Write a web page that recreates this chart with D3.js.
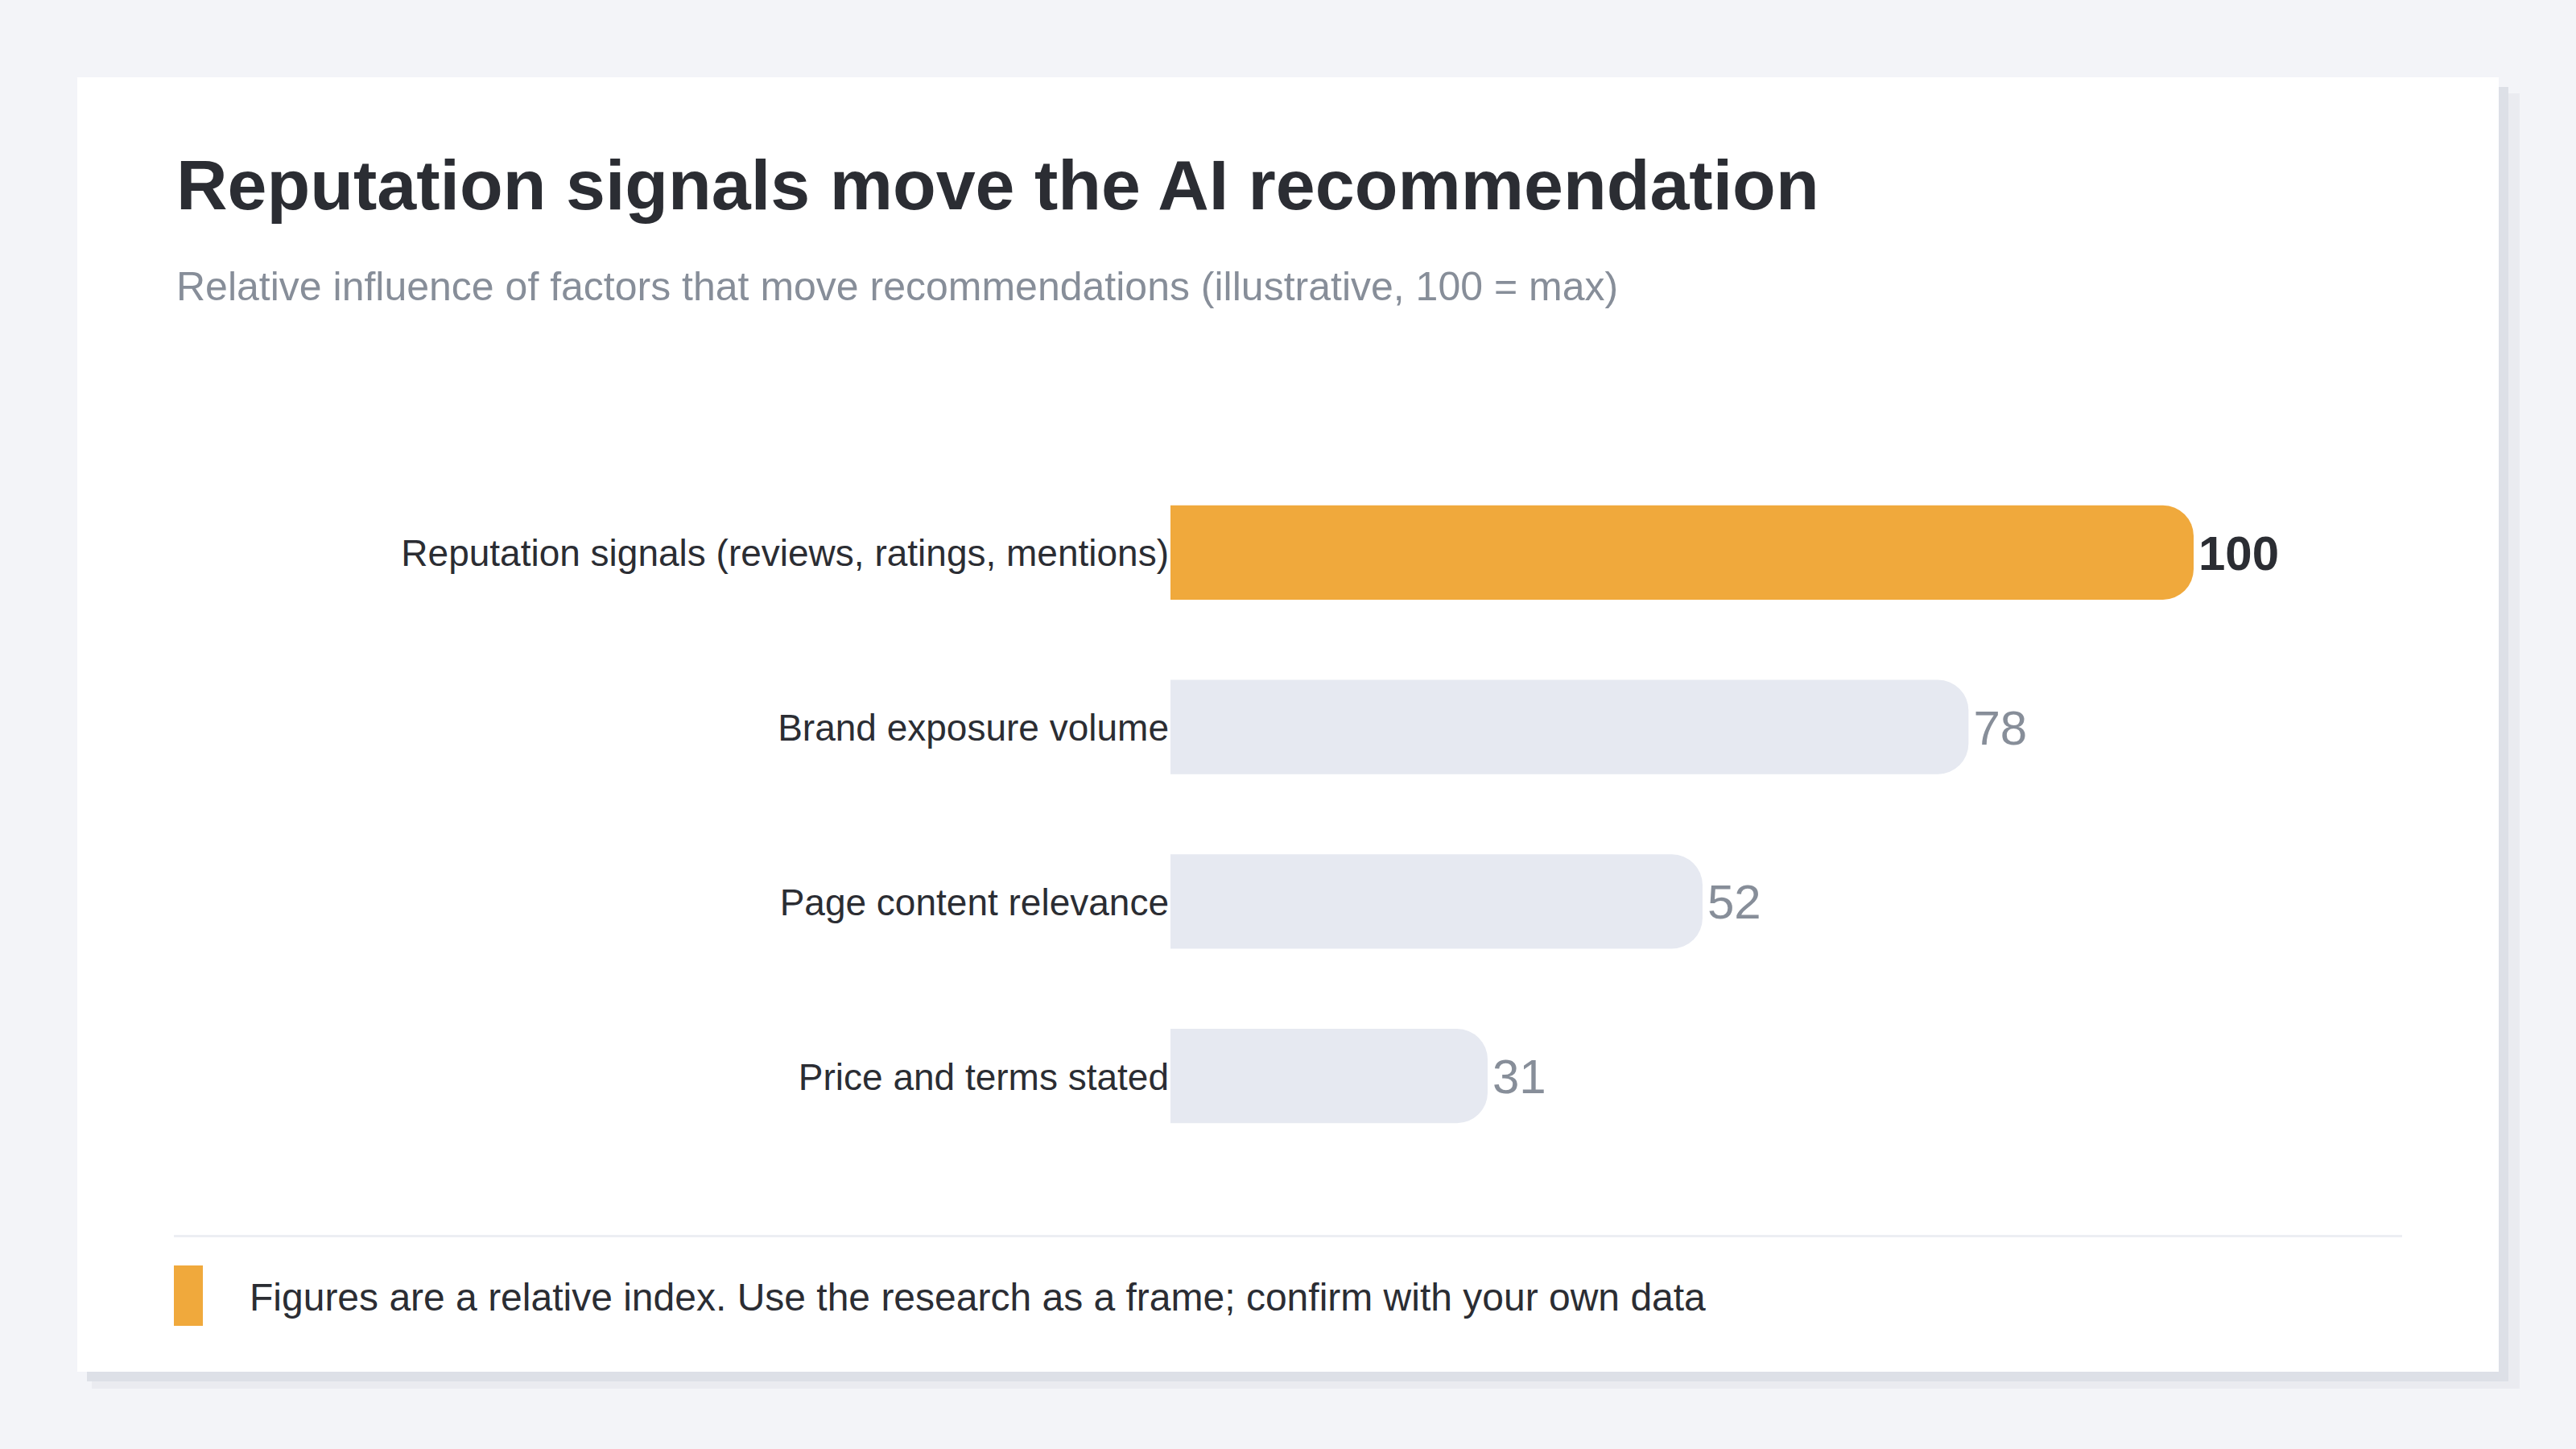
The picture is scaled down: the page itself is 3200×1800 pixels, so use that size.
<!DOCTYPE html>
<html>
<head>
<meta charset="utf-8">
<title>Reputation signals move the AI recommendation</title>
<script src="https://cdn.jsdelivr.net/npm/d3@7"></script>
<style>
    html, body { margin: 0; padding: 0; background: #f3f4f8; }
    svg { display: block; font-family: "Liberation Sans", Arial, Helvetica, sans-serif; }
</style>
</head>
<body>
<svg id="chart"></svg>
<script>
// Data
const categories = [
    'Reputation signals (reviews, ratings, mentions)',
    'Brand exposure volume',
    'Page content relevance',
    'Price and terms stated'
];
const values = [100, 78, 52, 31];
const highlighted = ['Reputation signals (reviews, ratings, mentions)'];

const titleText = 'Reputation signals move the AI recommendation';
const subtitleText = 'Relative influence of factors that move recommendations (illustrative, 100 = max)';
const footnoteText = 'Figures are a relative index. Use the research as a frame; confirm with your own data';

// Configuration
const CONFIG = {
    width: 3200,
    height: 1800,
    card: { x: 96, y: 96, w: 3008, h: 1608 },
    padX: 120,
    barLeft: 1454,
    barMaxWidth: 1271,
    bandTop: 578,
    bandBottom: 1445,
    barRadius: 38,
    colors: {
        bg: '#f3f4f8',
        card: '#ffffff',
        shadowNear: '#dde0e7',
        shadowFar: '#eaebf0',
        ink: '#2b2d33',
        muted: '#878e99',
        accent: '#f0a93c',
        bar: '#e6e9f1',
        rule: '#eceef3'
    }
};

/**
 * Bar with square left end and rounded right end
 */
function barPath(x, y, w, h, r) {
    r = Math.min(r, w, h / 2);
    return `M${x},${y}H${x + w - r}A${r},${r} 0 0 1 ${x + w},${y + r}` +
        `V${y + h - r}A${r},${r} 0 0 1 ${x + w - r},${y + h}H${x}Z`;
}

function init() {
    const C = CONFIG;
    const svg = d3.select('#chart')
        .attr('width', C.width)
        .attr('height', C.height);

    svg.append('rect')
        .attr('width', C.width).attr('height', C.height)
        .attr('fill', C.colors.bg);

    // Card with offset shadow
    const card = C.card;
    svg.append('rect')
        .attr('x', card.x + 18).attr('y', card.y + 20)
        .attr('width', card.w + 8).attr('height', card.h + 1)
        .attr('fill', C.colors.shadowFar);
    svg.append('rect')
        .attr('x', card.x + 12).attr('y', card.y + 12)
        .attr('width', card.w).attr('height', card.h)
        .attr('fill', C.colors.shadowNear);
    svg.append('rect')
        .attr('x', card.x).attr('y', card.y)
        .attr('width', card.w).attr('height', card.h)
        .attr('fill', C.colors.card);

    const left = card.x + C.padX;
    const right = card.x + card.w - C.padX;

    // Header
    svg.append('text')
        .attr('x', left + 3).attr('y', 260)
        .attr('font-size', 88).attr('font-weight', 700)
        .attr('fill', C.colors.ink)
        .text(titleText);

    svg.append('text')
        .attr('x', left + 3).attr('y', 373)
        .attr('font-size', 50)
        .attr('fill', C.colors.muted)
        .text(subtitleText);

    // Scales
    const x = d3.scaleLinear()
        .domain([0, d3.max(values)])
        .range([0, C.barMaxWidth]);

    const y = d3.scaleBand()
        .domain(categories)
        .range([C.bandTop, C.bandBottom])
        .paddingInner(0.46)
        .paddingOuter(0.23);

    const rows = categories.map((name, i) => ({
        name,
        value: values[i],
        hot: highlighted.includes(name)
    }));

    const g = svg.append('g');

    g.selectAll('path.bar')
        .data(rows)
        .join('path')
        .attr('class', 'bar')
        .attr('d', d => barPath(C.barLeft, y(d.name), x(d.value), y.bandwidth(), C.barRadius))
        .attr('fill', d => d.hot ? C.colors.accent : C.colors.bar);

    // Category labels
    g.selectAll('text.cat')
        .data(rows)
        .join('text')
        .attr('class', 'cat')
        .attr('x', C.barLeft - 2)
        .attr('y', d => y(d.name) + y.bandwidth() / 2 + 17)
        .attr('text-anchor', 'end')
        .attr('font-size', 46)
        .attr('fill', C.colors.ink)
        .text(d => d.name);

    // Value labels
    g.selectAll('text.val')
        .data(rows)
        .join('text')
        .attr('class', 'val')
        .attr('x', d => C.barLeft + x(d.value) + 6)
        .attr('y', d => y(d.name) + y.bandwidth() / 2 + 21.5)
        .attr('font-size', 60)
        .attr('font-weight', d => d.hot ? 700 : 400)
        .attr('fill', d => d.hot ? C.colors.ink : C.colors.muted)
        .text(d => d.value);

    // Footer
    svg.append('rect')
        .attr('x', left).attr('y', 1534)
        .attr('width', right - left).attr('height', 3)
        .attr('fill', C.colors.rule);

    svg.append('rect')
        .attr('x', left).attr('y', 1572)
        .attr('width', 36).attr('height', 75)
        .attr('fill', C.colors.accent);

    svg.append('text')
        .attr('x', 310).attr('y', 1628)
        .attr('font-size', 48)
        .attr('fill', C.colors.ink)
        .text(footnoteText);
}

document.addEventListener('DOMContentLoaded', init);
</script>
</body>
</html>
